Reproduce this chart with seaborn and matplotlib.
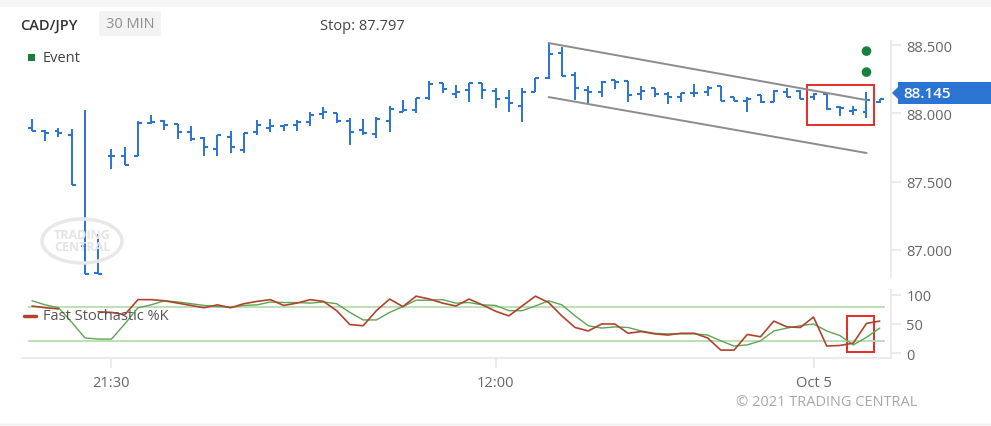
import numpy as np
import pandas as pd
import matplotlib
matplotlib.use("Agg")
import matplotlib.pyplot as plt
import matplotlib.patches as patches
import seaborn as sns

# CAD/JPY 30 min bars
opens = [87.892, 87.870, 87.870, 87.841, 87.027, 86.830, 87.687, 87.687, 87.687, 87.929,
         87.943, 87.921, 87.863, 87.819, 87.738, 87.826, 87.731, 87.863, 87.892, 87.907,
         87.914, 87.936, 87.995, 88.002, 87.943, 87.877, 87.848, 87.943, 88.009, 88.024,
         88.112, 88.222, 88.141, 88.170, 88.222, 88.163, 88.112, 88.053, 88.156, 88.258,
         88.441, 88.280, 88.170, 88.156, 88.244, 88.236, 88.141, 88.185, 88.141, 88.119,
         88.148, 88.156, 88.200, 88.119, 88.090, 88.134, 88.082, 88.156, 88.163, 88.119,
         88.141, 88.046, 88.016, 88.009, 88.082]
highs = [87.958, 87.877, 87.892, 87.885, 88.024, 87.115, 87.738, 87.753, 87.943, 87.987,
         87.951, 87.921, 87.907, 87.826, 87.841, 87.870, 87.855, 87.951, 87.958, 87.914,
         87.951, 88.009, 88.046, 88.002, 87.965, 87.958, 87.973, 88.053, 88.097, 88.112,
         88.236, 88.222, 88.207, 88.222, 88.222, 88.185, 88.170, 88.185, 88.258, 88.515,
         88.485, 88.302, 88.200, 88.236, 88.244, 88.236, 88.200, 88.185, 88.156, 88.148,
         88.214, 88.200, 88.200, 88.119, 88.119, 88.134, 88.170, 88.185, 88.170, 88.148,
         88.141, 88.053, 88.053, 88.156, 88.104]
lows = [87.870, 87.797, 87.826, 87.474, 86.822, 86.822, 87.592, 87.621, 87.687, 87.921,
        87.877, 87.811, 87.797, 87.687, 87.687, 87.709, 87.709, 87.841, 87.863, 87.870,
        87.870, 87.907, 87.958, 87.929, 87.767, 87.841, 87.819, 87.863, 88.009, 88.002,
        88.097, 88.148, 88.112, 88.082, 88.104, 88.038, 88.009, 87.936, 88.156, 88.251,
        88.273, 88.097, 88.075, 88.119, 88.178, 88.082, 88.097, 88.119, 88.068, 88.082,
        88.119, 88.126, 88.090, 88.090, 88.009, 88.075, 88.082, 88.119, 88.104, 88.097,
        88.024, 87.980, 87.987, 87.965, 88.075]
closes = [87.870, 87.855, 87.855, 87.474, 86.822, 86.822, 87.687, 87.621, 87.929, 87.936,
          87.914, 87.863, 87.811, 87.753, 87.841, 87.753, 87.855, 87.914, 87.907, 87.914,
          87.936, 87.987, 88.009, 87.943, 87.863, 87.855, 87.958, 88.031, 88.024, 88.112,
          88.214, 88.178, 88.156, 88.222, 88.170, 88.104, 88.075, 88.156, 88.258, 88.434,
          88.273, 88.185, 88.156, 88.229, 88.229, 88.134, 88.163, 88.141, 88.119, 88.148,
          88.148, 88.185, 88.090, 88.090, 88.104, 88.082, 88.163, 88.119, 88.104, 88.141,
          88.031, 88.038, 88.024, 88.097, 88.104]

# fast stochastic %K (red) and its signal (green)
stoch_k = [81, 78, 76, np.nan, np.nan, 71, 70, 66, 92, 92,
           90, 86, 82, 78, 83, 78, 85, 89, 92, 82,
           86, 92, 89, 73, 49, 47, 73, 93, 80, 98,
           93, 86, 81, 93, 83, 72, 64, 81, 98, 87,
           64, 44, 38, 50, 50, 34, 37, 33, 31, 34,
           34, 26, 5, 5, 32, 28, 55, 45, 44, 62,
           12, 13, 17, 51, 55]
stoch_d = [90, 83, 78, 53, 26, 24, 24, 50, 78, 83,
           90, 88, 85, 82, 80, 79, 82, 83, 88, 87,
           87, 86, 88, 85, 70, 57, 57, 70, 80, 91,
           91, 92, 86, 87, 83, 82, 73, 73, 81, 90,
           83, 64, 47, 43, 45, 44, 38, 34, 33, 33,
           33, 31, 21, 12, 14, 21, 38, 43, 47, 50,
           38, 30, 14, 27, 43]
stoch_levels = [80, 20]

start_time = "2021-10-03 18:30"
tick_times = ["2021-10-03 21:30", "2021-10-04 12:00", "2021-10-05 00:00"]
tick_labels = ["21:30", "12:00", "Oct 5"]
price_ticks = [87.0, 87.5, 88.0, 88.5]
stoch_ticks = [0, 50, 100]

# channel drawn from bar 40 to bar 64
channel_bars = [39, 63]
channel_upper = [88.515, 88.097]
channel_lower = [88.119, 87.709]
event_bars = [63, 63]
event_prices = [88.456, 88.302]
last_price = 88.145
stop_level = 87.797
# highlight boxes: (bar from, bar to, low, high)
price_box = (58.5, 63.6, 87.914, 88.207)
stoch_box = (61.5, 63.6, 1.7, 63.8)

BLUE = "#2b74d1"
RED_K = "#b0432c"
GREEN_D = "#5ea552"
TXT = "#666666"
AXC = "#e8e8e8"

times = pd.date_range(start_time, periods=len(opens), freq="30min")
df = pd.DataFrame({"time": times, "open": opens, "high": highs, "low": lows,
                   "close": closes, "k": stoch_k, "d": stoch_d})
df["i"] = np.arange(len(df))
df["seg"] = df["k"].isna().cumsum()
tick_pos = [int(df.index[df["time"] == pd.Timestamp(t)][0]) for t in tick_times]

sns.set_theme(style="white")
plt.rcParams["font.family"] = ["Open Sans", "DejaVu Sans"]

W, H = 991, 427
fig = plt.figure(figsize=(W / 100, H / 100), dpi=100)


def fx(px):
    return px / W


def fy(py):
    return 1 - py / H


ax = fig.add_axes([fx(22), fy(278), fx(869), 236 / H])
ax2 = fig.add_axes([fx(22), fy(359), fx(869), 68 / H])
xlim = (-0.755, 64.85)

# OHLC bars
ax.vlines(df["i"], df["low"], df["high"], color=BLUE, lw=1.4)
ax.hlines(df["open"], df["i"] - 0.3, df["i"], color=BLUE, lw=1.5)
ax.hlines(df["close"], df["i"], df["i"] + 0.3, color=BLUE, lw=1.5)

ax.plot(channel_bars, channel_upper, color="#8c8c8c", lw=1.4)
ax.plot(channel_bars, channel_lower, color="#8c8c8c", lw=1.4)
sns.scatterplot(x=event_bars, y=event_prices, color="#17803d", s=48,
                edgecolor="none", ax=ax, zorder=5)
ax.add_patch(patches.Rectangle((price_box[0], price_box[2]), price_box[1] - price_box[0],
                               price_box[3] - price_box[2], fill=False, ec="#e52b2b", lw=1.4))

ax.set_xlim(*xlim)
ax.set_ylim(86.80, 88.53)
ax.set_xticks([])
ax.yaxis.tick_right()
ax.set_yticks(price_ticks)
ax.set_yticklabels([f"{v:.3f}" for v in price_ticks])
ax.tick_params(axis="y", right=True, length=7, color=AXC, labelcolor=TXT,
               labelsize=10.5, pad=4)
for s in ["top", "left", "bottom"]:
    ax.spines[s].set_visible(False)
ax.spines["right"].set_color(AXC)
ax.set_xlabel("")
ax.set_ylabel("")

# stochastic panel
for lv in stoch_levels:
    ax2.hlines(lv, -0.3, len(df) - 0.6, color="#b9dcb2", lw=1.3)
sns.lineplot(data=df, x="i", y="d", color=GREEN_D, lw=1.0, ax=ax2,
             estimator=None, sort=False)
sns.lineplot(data=df.dropna(subset=["k"]), x="i", y="k", units="seg", estimator=None,
             color=RED_K, lw=1.2, ax=ax2, sort=False)
ax2.add_patch(patches.Rectangle((stoch_box[0], stoch_box[2]), stoch_box[1] - stoch_box[0],
                                stoch_box[3] - stoch_box[2], fill=False, ec="#e52b2b", lw=1.4))
ax2.set_xlim(*xlim)
ax2.set_ylim(-8.6, 108.6)
ax2.yaxis.tick_right()
ax2.set_yticks(stoch_ticks)
ax2.tick_params(axis="y", right=True, length=7, color=AXC, labelcolor=TXT,
                labelsize=10.5, pad=4)
ax2.set_xticks(tick_pos)
ax2.set_xticklabels(tick_labels)
ax2.tick_params(axis="x", bottom=True, length=7, color=AXC, labelcolor=TXT,
                labelsize=10.5, pad=5)
for s in ["top", "left"]:
    ax2.spines[s].set_visible(False)
ax2.spines["right"].set_color(AXC)
ax2.spines["bottom"].set_color(AXC)
ax2.set_xlabel("")
ax2.set_ylabel("")

# header and decorations
fig.patches.append(patches.Rectangle((0, fy(8)), 1, 8 / H, transform=fig.transFigure,
                                     fc="#f6f6f6", ec="none"))
fig.patches.append(patches.FancyBboxPatch((fx(99), fy(37)), fx(62), 25 / H,
                                          boxstyle="round,pad=0,rounding_size=0.004",
                                          transform=fig.transFigure, fc="#f3f3f3", ec="none"))
fig.text(fx(20), fy(26), "CAD/JPY", fontsize=10.5, weight="semibold", color="#333333", va="center")
fig.text(fx(130), fy(25), "30 MIN", fontsize=10.5, color="#8f8f8f", va="center", ha="center")
fig.text(fx(320), fy(26), f"Stop: {stop_level:.3f}", fontsize=10.5, color="#444444", va="center")
fig.patches.append(patches.Rectangle((fx(28), fy(62)), fx(7), 7 / H, transform=fig.transFigure,
                                     fc="#17803d", ec="none"))
fig.text(fx(43), fy(58), "Event", fontsize=10.5, color="#444444", va="center")

fig.lines.append(plt.Line2D([fx(24), fx(36)], [fy(317), fy(317)], transform=fig.transFigure,
                            color=RED_K, lw=2.5))
fig.text(fx(43), fy(317), "Fast Stochastic %K", fontsize=10.5, color="#555555", va="center")

# current price flag
fig.patches.append(patches.Rectangle((fx(898), fy(105)), fx(93), 22 / H,
                                     transform=fig.transFigure, fc=BLUE, ec="none"))
fig.patches.append(patches.Polygon([(fx(892), fy(94)), (fx(899), fy(87)), (fx(899), fy(101))],
                                   closed=True, transform=fig.transFigure, fc=BLUE, ec="none"))
fig.text(fx(903), fy(94), f"{last_price:.3f}", fontsize=11, color="white",
         weight="semibold", va="center")

# watermark
fig.patches.append(patches.Ellipse((fx(82), fy(242)), fx(80), 44 / H, transform=fig.transFigure,
                                   fill=False, ec="#e8e8e8", lw=2.5))
fig.text(fx(82), fy(242), "TRADING\nCENTRAL", fontsize=9, weight="bold", color="#e4e4e4",
         ha="center", va="center", linespacing=0.9)

fig.text(fx(917), fy(403), "© 2021 TRADING CENTRAL", fontsize=10.5, color="#a8a8a8",
         ha="right", va="center")
fig.lines.append(plt.Line2D([0, 1], [fy(425), fy(425)], transform=fig.transFigure,
                            color="#eeeeee", lw=1))

fig.savefig("out.png", dpi=100)
